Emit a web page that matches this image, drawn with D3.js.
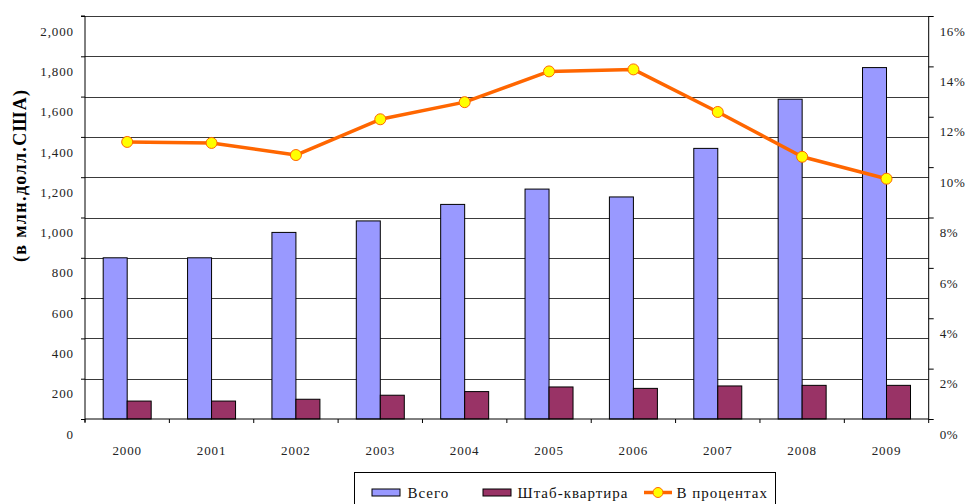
<!DOCTYPE html>
<html>
<head>
<meta charset="utf-8">
<script src="https://cdn.jsdelivr.net/npm/d3@7"></script>
<style>
  body { margin: 0; background: #fff; }
  svg { display: block; font-family: "Times New Roman", serif; }
</style>
</head>
<body>
<div id="chart"></div>
<script>
const years = ['2000', '2001', '2002', '2003', '2004', '2005', '2006', '2007', '2008', '2009'];
const totalValues = [800, 800, 926, 983, 1065, 1141, 1102, 1343, 1587, 1744];
const hqValues = [89, 89, 98, 118, 136, 159, 152, 164, 167, 167];
const percentValues = [11.0, 10.96, 10.48, 11.9, 12.58, 13.8, 13.88, 12.19, 10.41, 9.54];
const leftTicks = d3.range(0, 2001, 200);
const rightTicks = d3.range(0, 17, 2);
const seriesNames = ['Всего', 'Штаб-квартира', 'В процентах'];

const width = 965;
const height = 504;
const plot = { left: 85, right: 928.7, top: 16, bottom: 419 };
const colors = { total: '#9999FF', hq: '#993366', line: '#FF6600', marker: '#FFFF00' };
const serif = '"Times New Roman", serif';
const labelShift = 15; // tick labels sit below their gridlines in the original

const svg = d3.select('#chart')
  .append('svg')
  .attr('width', width)
  .attr('height', height);

const xScale = d3.scaleBand()
  .domain(years)
  .range([plot.left, plot.right])
  .padding(0);

const subScale = d3.scaleBand()
  .domain(['total', 'hq'])
  .range([0, xScale.bandwidth()])
  .paddingInner(0)
  .paddingOuter(0.758);

const yScale = d3.scaleLinear().domain([0, 2000]).range([plot.bottom, plot.top]);
const pScale = d3.scaleLinear().domain([0, 16]).range([plot.bottom, plot.top]);

// gridlines
svg.append('g')
  .selectAll('line')
  .data(leftTicks.slice(1))
  .enter()
  .append('line')
  .attr('x1', plot.left)
  .attr('x2', plot.right)
  .attr('y1', (d) => Math.round(yScale(d)) + 0.5)
  .attr('y2', (d) => Math.round(yScale(d)) + 0.5)
  .attr('stroke', '#3a3a3a')
  .attr('stroke-width', 1);

// bars
const barGroups = svg.append('g')
  .selectAll('g')
  .data(years)
  .enter()
  .append('g')
  .attr('transform', (d) => `translate(${xScale(d)},0)`);

barGroups.append('rect')
  .attr('x', subScale('total'))
  .attr('width', subScale.bandwidth())
  .attr('y', (d, i) => yScale(totalValues[i]))
  .attr('height', (d, i) => yScale(0) - yScale(totalValues[i]))
  .attr('fill', colors.total)
  .attr('stroke', '#000')
  .attr('stroke-width', 1);

barGroups.append('rect')
  .attr('x', subScale('hq'))
  .attr('width', subScale.bandwidth())
  .attr('y', (d, i) => yScale(hqValues[i]))
  .attr('height', (d, i) => yScale(0) - yScale(hqValues[i]))
  .attr('fill', colors.hq)
  .attr('stroke', '#000')
  .attr('stroke-width', 1);

// left axis
const leftAxis = svg.append('g')
  .attr('transform', `translate(${plot.left},0)`)
  .call(d3.axisLeft(yScale).tickValues(leftTicks).tickSize(4).tickPadding(7)
    .tickFormat(d3.format(',')));
leftAxis.attr('font-family', null);
leftAxis.selectAll('text')
  .attr('y', labelShift)
  .style('font-size', '13px')
  .style('letter-spacing', '0.9px')
  .style('font-family', serif)
  .attr('fill', '#222');
leftAxis.select('.domain').attr('d', `M-4,${plot.top}H0V${plot.bottom + 3}`);

// right axis
const rightAxis = svg.append('g')
  .attr('transform', `translate(${plot.right},0)`)
  .call(d3.axisRight(pScale).tickValues(rightTicks).tickSize(5).tickPadding(6)
    .tickFormat((d) => `${d}%`));
rightAxis.attr('font-family', null);
rightAxis.selectAll('text')
  .attr('y', labelShift)
  .style('font-size', '13px')
  .style('letter-spacing', '0.6px')
  .style('font-family', serif)
  .attr('fill', '#222');
rightAxis.select('.domain').attr('d', `M0,${plot.top}V${plot.bottom}`);

// x axis: boundary ticks + centered labels
const xAxis = svg.append('g')
  .attr('transform', `translate(0,${plot.bottom})`);
xAxis.append('line')
  .attr('x1', plot.left)
  .attr('x2', plot.right)
  .attr('stroke', '#000');
xAxis.selectAll('.bound')
  .data(years.concat(['end']))
  .enter()
  .append('line')
  .attr('class', 'bound')
  .attr('x1', (d, i) => plot.left + i * xScale.step())
  .attr('x2', (d, i) => plot.left + i * xScale.step())
  .attr('y1', 0)
  .attr('y2', 4)
  .attr('stroke', '#000');
xAxis.selectAll('.year')
  .data(years)
  .enter()
  .append('text')
  .attr('class', 'year')
  .attr('x', (d) => xScale(d) + xScale.bandwidth() / 2)
  .attr('y', 36)
  .attr('text-anchor', 'middle')
  .style('font-size', '13px')
  .style('letter-spacing', '0.9px')
  .style('font-family', serif)
  .attr('fill', '#222')
  .text((d) => d);

// percent line
const line = d3.line()
  .x((d, i) => xScale(years[i]) + xScale.bandwidth() / 2)
  .y((d) => pScale(d));

svg.append('path')
  .datum(percentValues)
  .attr('d', line)
  .attr('fill', 'none')
  .attr('stroke', colors.line)
  .attr('stroke-width', 3.5)
  .attr('stroke-linejoin', 'round');

svg.append('g')
  .selectAll('circle')
  .data(percentValues)
  .enter()
  .append('circle')
  .attr('cx', (d, i) => xScale(years[i]) + xScale.bandwidth() / 2)
  .attr('cy', (d) => pScale(d))
  .attr('r', 5.5)
  .attr('fill', colors.marker)
  .attr('stroke', colors.line)
  .attr('stroke-width', 1);

// y title
svg.append('text')
  .attr('transform', 'translate(26,176) rotate(-90)')
  .attr('text-anchor', 'middle')
  .attr('textLength', 172)
  .attr('lengthAdjust', 'spacing')
  .style('font-size', '18px')
  .style('font-weight', 'bold')
  .style('font-family', serif)
  .text('(в млн.долл.США)');

// legend
const legend = svg.append('g');
legend.append('rect')
  .attr('x', 354.5)
  .attr('y', 472.5)
  .attr('width', 421)
  .attr('height', 60)
  .attr('fill', '#fff')
  .attr('stroke', '#000');

const swatchX = [372, 483];
[colors.total, colors.hq].forEach((c, i) => {
  legend.append('rect')
    .attr('x', swatchX[i])
    .attr('y', 489)
    .attr('width', 28)
    .attr('height', 7)
    .attr('fill', c)
    .attr('stroke', '#000')
    .attr('stroke-width', 1);
});
legend.append('line')
  .attr('x1', 644).attr('x2', 672)
  .attr('y1', 492.5).attr('y2', 492.5)
  .attr('stroke', colors.line)
  .attr('stroke-width', 3.5);
legend.append('circle')
  .attr('cx', 658).attr('cy', 492.5).attr('r', 5)
  .attr('fill', colors.marker)
  .attr('stroke', colors.line);

const textX = [407.5, 517.5, 676.5];
seriesNames.forEach((name, i) => {
  legend.append('text')
    .attr('x', textX[i])
    .attr('y', 498)
    .style('font-size', '15px')
    .style('letter-spacing', '1px')
    .style('font-family', serif)
    .attr('fill', '#111')
    .text(name);
});
</script>
</body>
</html>
